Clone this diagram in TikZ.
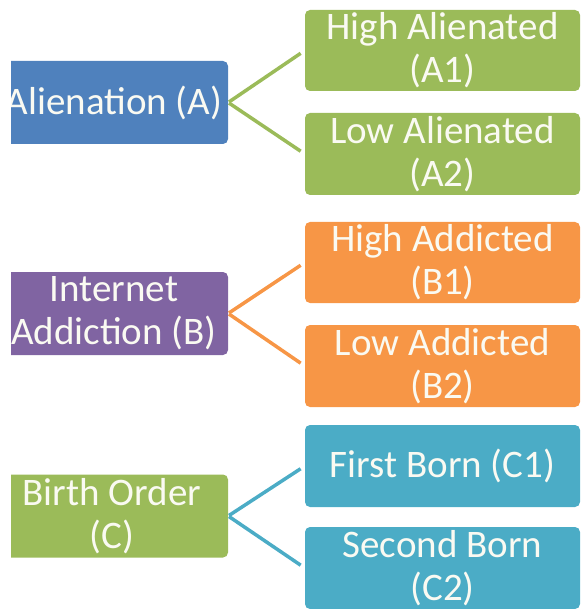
\documentclass[tikz,border=0pt]{standalone}
\usepackage{fontspec}
\setmainfont{Carlito}
\definecolor{cblue}{HTML}{4F81BD}
\definecolor{cgreen}{HTML}{9BBB59}
\definecolor{corange}{HTML}{F79646}
\definecolor{cpurple}{HTML}{8064A2}
\definecolor{cteal}{HTML}{4BACC6}
\definecolor{ctext}{HTML}{FAFAF2}
\begin{document}
\begin{tikzpicture}[x=1pt,y=-1pt,
  box/.style={rectangle, rounded corners=5pt, draw=none, inner sep=0pt, align=center,
    text=ctext, font=\fontsize{39}{43}\selectfont},
  parentbox/.style={box, minimum height=83pt},
  childbox/.style={box, minimum width=275pt},
  conn/.style={line width=3.5pt, shorten >=5pt, shorten <=1pt}]
\useasboundingbox (0,0) rectangle (582,609);
\begin{scope}
\clip (11,0) rectangle (582,609);
% parents
\node[parentbox, fill=cblue, minimum width=228pt] (A) at (114,102.5) {Alienation (A)};
\node[parentbox, fill=cpurple, minimum width=228pt] (B) at (114,313.5) {Internet\\Addiction (B)};
\node[parentbox, fill=cgreen, minimum width=232pt] (C) at (112,516) {Birth Order\\(C)};
\end{scope}
% children
\node[childbox, fill=cgreen, minimum height=81pt] (A1) at (442.5,50.5) {High Alienated\\(A1)};
\node[childbox, fill=cgreen, minimum height=82pt] (A2) at (442.5,154) {Low Alienated\\(A2)};
\node[childbox, fill=corange, minimum height=81pt] (B1) at (442.5,262.5) {High Addicted\\(B1)};
\node[childbox, fill=corange, minimum height=82pt] (B2) at (442.5,366) {Low Addicted\\(B2)};
\node[childbox, fill=cteal, minimum height=82pt] (C1) at (442.5,466) {First Born (C1)};
\node[childbox, fill=cteal, minimum height=82pt] (C2) at (442.5,568) {Second Born\\(C2)};
% connectors
\draw[conn, cgreen] (A.east) -- (A1.west);
\draw[conn, cgreen] (A.east) -- (A2.west);
\draw[conn, corange] (B.east) -- (B1.west);
\draw[conn, corange] (B.east) -- (B2.west);
\draw[conn, cteal] (C.east) -- (C1.west);
\draw[conn, cteal] (C.east) -- (C2.west);
\end{tikzpicture}
\end{document}
